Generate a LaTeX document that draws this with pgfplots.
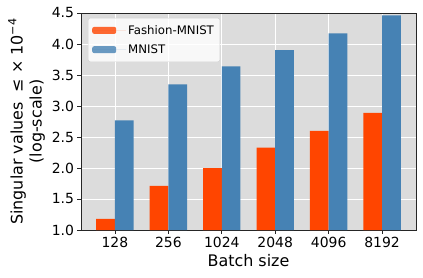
\documentclass[border=0pt]{standalone}
\usepackage{fontspec}
\setmainfont{DejaVu Sans}
\usepackage{pgfplots}
\pgfplotsset{compat=1.18}
\definecolor{fm}{HTML}{FF4500}
\definecolor{mn}{HTML}{4682B4}
\definecolor{bg}{HTML}{DCDCDC}
\begin{document}
\begin{tikzpicture}
\begin{axis}[
  at={(0,0)}, anchor=south west,
  scale only axis, width=335bp, height=217bp,
  xmin=-0.635, xmax=5.635, ymin=1, ymax=4.5,
  xtick={0,1,2,3,4,5}, xticklabels={128,256,1024,2048,4096,8192},
  ytick={1,1.5,2,2.5,3,3.5,4,4.5},
  yticklabel style={/pgf/number format/fixed, /pgf/number format/fixed zerofill, /pgf/number format/precision=1},
  /pgf/number format/assume math mode=true,
  tick label style={font=\fontsize{14}{16}\selectfont},
  axis background/.style={fill=bg},
  grid=major, major grid style={white, line width=0.8pt},
  axis line style={black!85, line width=0.8pt},
  tick style={black!85, line width=0.8pt}, major tick length=3.5bp, tick align=outside,
  xtick pos=bottom, ytick pos=left,
  ybar=0pt, bar width=0.35,
  xlabel={Batch size},
  ylabel={Singular values \ ≤ × 10\textsuperscript{−4}\\(log-scale)},
  label style={font=\fontsize{16}{19}\selectfont},
  ylabel style={align=center},
  legend style={at={(0.021,0.977)}, anchor=north west, fill=white, fill opacity=0.8, text opacity=1, draw=black!18, rounded corners=2pt, font=\fontsize{11.8}{14}\selectfont, row sep=5pt, inner xsep=4pt, inner ysep=5pt},
  legend cell align=left,
  legend image code/.code={\fill[#1] (0bp,-3.5bp) rectangle (24bp,3.5bp); \path (0bp,0bp) -- (34bp,0bp);},
]
\addplot[fill=fm, draw=none] coordinates {(0,1.18) (1,1.71) (2,2.00) (3,2.33) (4,2.60) (5,2.89)};
\addplot[fill=mn, draw=none] coordinates {(0,2.77) (1,3.35) (2,3.64) (3,3.90) (4,4.17) (5,4.46)};
\legend{Fashion-MNIST, MNIST}
\end{axis}
\pgfresetboundingbox
\path (-81bp,-48bp) rectangle (342bp,230bp);
\end{tikzpicture}
\end{document}
